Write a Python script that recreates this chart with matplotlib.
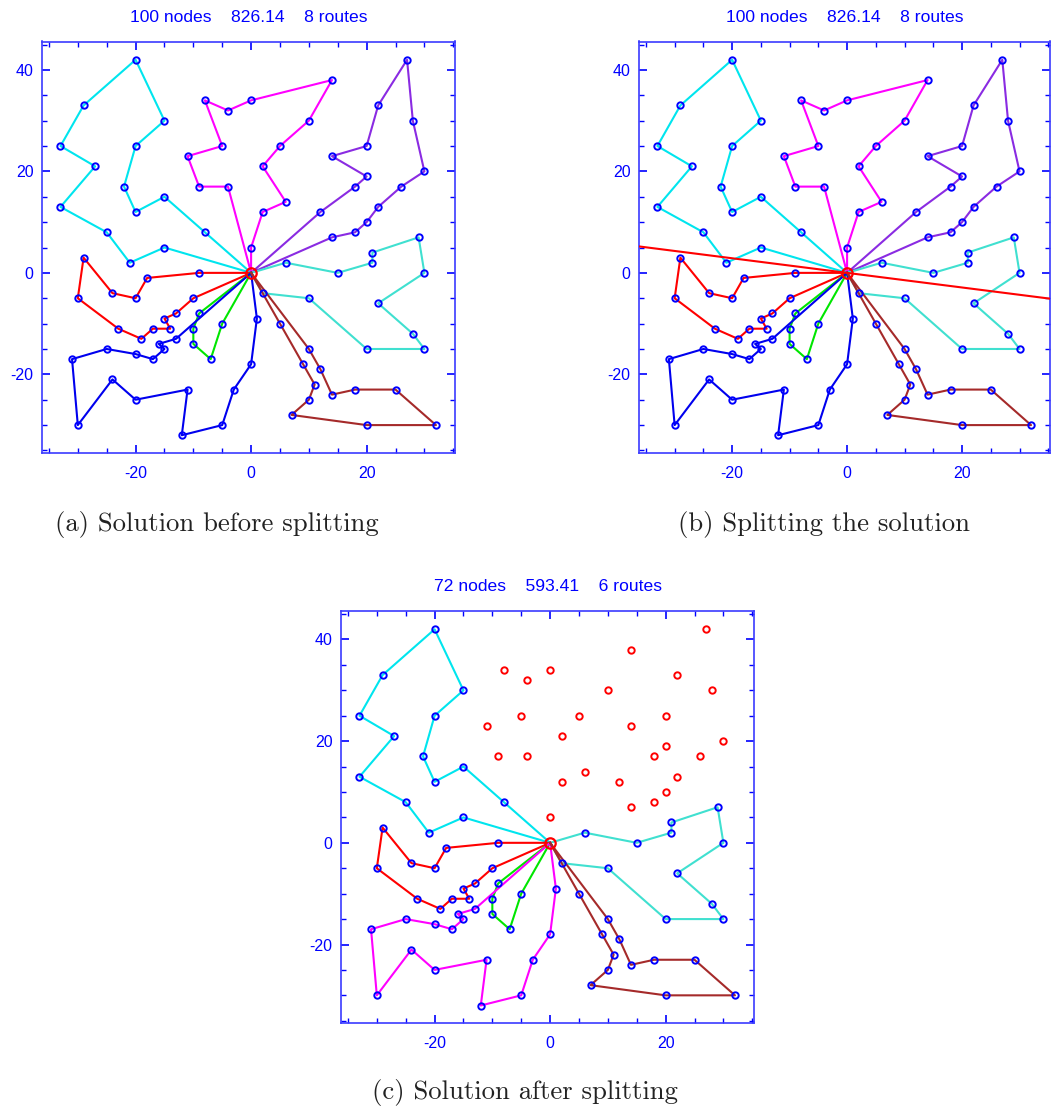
import matplotlib
matplotlib.use("Agg")
import matplotlib.pyplot as plt
from matplotlib.ticker import MultipleLocator

plt.rcParams["axes.unicode_minus"] = False

depot = (0, 0)

# routes as visited after leaving the depot (the depot closes each tour)
cyan_route = [(-15, 5), (-21, 2), (-25, 8), (-33, 13), (-27, 21), (-33, 25), (-29, 33),
              (-20, 42), (-15, 30), (-20, 25), (-22, 17), (-20, 12), (-15, 15), (-8, 8)]
magenta_route = [(0, 5), (2, 12), (6, 14), (2, 21), (5, 25), (10, 30), (14, 38),
                 (0, 34), (-4, 32), (-8, 34), (-5, 25), (-11, 23), (-9, 17), (-4, 17)]
purple_route = [(12, 12), (18, 17), (20, 19), (14, 23), (20, 25), (22, 33), (27, 42),
                (28, 30), (30, 20), (26, 17), (22, 13), (20, 10), (18, 8), (14, 7)]
turquoise_route = [(6, 2), (15, 0), (21, 2), (21, 4), (29, 7), (30, 0), (22, -6),
                   (28, -12), (30, -15), (20, -15), (10, -5), (2, -4)]
red_route = [(-9, 0), (-18, -1), (-20, -5), (-24, -4), (-29, 3), (-30, -5), (-23, -11),
             (-19, -13), (-17, -11), (-14, -11), (-15, -9), (-13, -8), (-10, -5)]
green_route = [(-9, -8), (-10, -11), (-10, -14), (-7, -17), (-5, -10)]
blue_route = [(-13, -13), (-16, -14), (-15, -15), (-17, -17), (-20, -16), (-25, -15),
              (-31, -17), (-30, -30), (-24, -21), (-20, -25), (-11, -23), (-12, -32),
              (-5, -30), (-3, -23), (0, -18), (1, -9)]
brown_route = [(5, -10), (9, -18), (11, -22), (10, -25), (7, -28), (20, -30), (32, -30),
               (25, -23), (18, -23), (14, -24), (12, -19), (10, -15)]

routes_before = [
    (cyan_route, "#00e5ee"),
    (magenta_route, "#ff00ff"),
    (purple_route, "#8a2be2"),
    (turquoise_route, "#40e0d0"),
    (red_route, "#ff0000"),
    (green_route, "#00e600"),
    (blue_route, "#0000ee"),
    (brown_route, "#a52a2a"),
]
routes_after = [
    (cyan_route, "#00e5ee"),
    (turquoise_route, "#40e0d0"),
    (red_route, "#ff0000"),
    (green_route, "#00e600"),
    (blue_route, "#ff00ff"),
    (brown_route, "#a52a2a"),
]
removed_nodes = magenta_route + purple_route

split_slope = -0.144

title_before = "100 nodes    826.14    8 routes"
title_after = "72 nodes    593.41    6 routes"
captions = ["(a) Solution before splitting", "(b) Splitting the solution",
            "(c) Solution after splitting"]

BLUE = "#0000ff"
W, H = 1052, 1109


def setup_axes(ax, title):
    ax.set_xlim(-36.2, 35.3)
    ax.set_ylim(-35.5, 45.6)
    ax.xaxis.set_major_locator(MultipleLocator(20))
    ax.xaxis.set_minor_locator(MultipleLocator(5))
    ax.yaxis.set_major_locator(MultipleLocator(20))
    ax.yaxis.set_minor_locator(MultipleLocator(5))
    ax.tick_params(which="both", direction="in", top=True, right=True,
                   color=BLUE, labelcolor=BLUE, labelsize=11.5)
    ax.tick_params(which="major", length=6, width=1.2)
    ax.tick_params(which="minor", length=3.3, width=1.0)
    ax.tick_params(axis="x", pad=9)
    ax.tick_params(axis="y", pad=6)
    for lab in ax.get_xticklabels() + ax.get_yticklabels():
        lab.set_family("Liberation Sans")
    for sp in ax.spines.values():
        sp.set_color("#3b3bff")
        sp.set_linewidth(1.2)
    ax.text(0.5, 1.048, title, transform=ax.transAxes, ha="center", va="baseline",
            color=BLUE, fontsize=12.6, family="Liberation Sans")


def draw_routes(ax, routes):
    for pts, col in routes:
        tour = [depot] + pts + [depot]
        xs = [p[0] for p in tour]
        ys = [p[1] for p in tour]
        ax.plot(xs, ys, color=col, lw=1.5, zorder=2)
        ax.plot(xs[1:-1], ys[1:-1], ls="none", marker="o", ms=4.6, mew=1.4,
                mec=BLUE, mfc="none", zorder=3)
    ax.plot([depot[0]], [depot[1]], ls="none", marker="o", ms=7.5, mew=1.6,
            mec="#ff0000", mfc="none", zorder=5)


fig = plt.figure(figsize=(W / 100, H / 100), dpi=100)

ax_a = fig.add_axes([42 / W, 1 - 453 / H, 413 / W, 411.5 / H])
setup_axes(ax_a, title_before)
draw_routes(ax_a, routes_before)

ax_b = fig.add_axes([639 / W, 1 - 453 / H, 411 / W, 411.5 / H])
setup_axes(ax_b, title_before)
draw_routes(ax_b, routes_before)
ax_b.axline(depot, slope=split_slope, color="#ff0000", lw=1.5, zorder=4)

ax_c = fig.add_axes([341 / W, 1 - 1023.3 / H, 413 / W, 412.3 / H])
setup_axes(ax_c, title_after)
draw_routes(ax_c, routes_after)
ax_c.plot([p[0] for p in removed_nodes], [p[1] for p in removed_nodes], ls="none",
          marker="o", ms=4.6, mew=1.4, mec="#ff0000", mfc="none", zorder=3)

for (cx, cy), text in zip([(216.5, 530.7), (824, 531), (525, 1099)], captions):
    fig.text(cx / W, 1 - cy / H, text, ha="center", va="baseline",
             family="cmr10", fontsize=19.2, color="#222222")

fig.savefig("out.png", dpi=100)
